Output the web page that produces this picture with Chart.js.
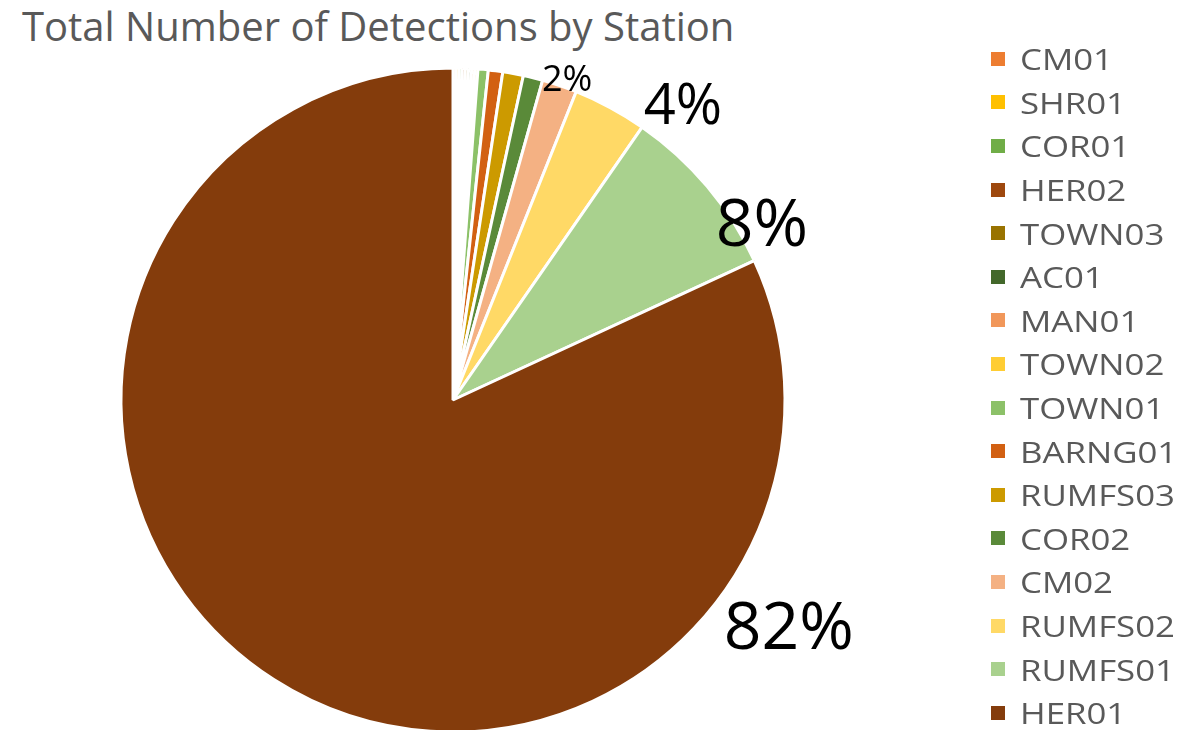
<!DOCTYPE html>
<html>
<head>
<meta charset="utf-8">
<title>Total Number of Detections by Station</title>
<script src="https://cdn.jsdelivr.net/npm/chart.js@4.4.1/dist/chart.umd.min.js"></script>
<style>
    body { margin: 0; background: #fff; overflow: hidden; width: 1198px; height: 730px; }
    #chart-title {
        position: absolute; left: 22px; top: 6px;
        font-family: 'Open Sans', sans-serif; font-size: 40px; line-height: 1;
        color: #595959; white-space: nowrap;
    }
    #chart-wrap { position: absolute; left: 0; top: 0; width: 1198px; height: 760px; }
    #legend { position: absolute; left: 991px; top: 37px; margin: 0; padding: 0; list-style: none; }
    #legend li {
        height: 43.6px; display: flex; align-items: center;
        font-family: 'Open Sans', sans-serif; font-size: 29px; color: #595959; white-space: nowrap;
    }
    #legend .swatch { width: 14px; height: 14px; margin-right: 15px; flex: none; }
    #legend .name { display: inline-block; transform: scaleX(1.2); transform-origin: left center; }
</style>
</head>
<body>
<div id="chart-title">Total Number of Detections by Station</div>
<div id="chart-wrap"><canvas id="pieChart"></canvas></div>
<ul id="legend"></ul>
<script>
// stations in legend order (first slice starts at 12 o'clock, clockwise)
const stations = ['CM01', 'SHR01', 'COR01', 'HER02', 'TOWN03', 'AC01', 'MAN01', 'TOWN02',
    'TOWN01', 'BARNG01', 'RUMFS03', 'COR02', 'CM02', 'RUMFS02', 'RUMFS01', 'HER01'];
// detections
const detections = [15, 15, 15, 15, 15, 15, 15, 15, 50, 70, 100, 95, 170, 360, 845, 8190];
const sliceColors = ['#ED7D31', '#FFC000', '#70AD47', '#9E480E', '#997300', '#43682B', '#F1975A', '#FFCD33',
    '#8CC168', '#D26012', '#CC9A00', '#5A8A39', '#F4B183', '#FFD966', '#A9D18E', '#843C0C'];

// only these slices carry a percentage label; [index, angle from 12 o'clock (deg), radius factor, font px]
const labelSpots = [
    [12, 19.7, 1.02, 36],
    [13, 38.2, 1.12, 56],
    [14, 60.8, 1.066, 66],
    [15, 124.4, 1.226, 66]
];

const pctLabels = {
    id: 'pctLabels',
    afterDatasetsDraw(chart) {
        const ctx = chart.ctx;
        const arcs = chart.getDatasetMeta(0).data;
        const total = detections.reduce((a, b) => a + b, 0);
        ctx.save();
        ctx.fillStyle = '#000';
        ctx.textAlign = 'center';
        ctx.textBaseline = 'middle';
        labelSpots.forEach(([i, deg, f, size]) => {
            const arc = arcs[i];
            const a = (deg - 90) * Math.PI / 180;
            const r = arc.outerRadius * f;
            ctx.font = `${size}px 'Open Sans', sans-serif`;
            ctx.fillText(Math.round(detections[i] / total * 100) + '%', arc.x + Math.cos(a) * r, arc.y + Math.sin(a) * r);
        });
        ctx.restore();
    }
};

document.addEventListener('DOMContentLoaded', () => {
    const ctx = document.getElementById('pieChart').getContext('2d');
    const chart = new Chart(ctx, {
        type: 'pie',
        data: {
            labels: stations,
            datasets: [{
                data: detections,
                backgroundColor: sliceColors,
                borderColor: '#fff',
                borderWidth: 3,
                hoverOffset: 0
            }]
        },
        options: {
            responsive: true,
            maintainAspectRatio: false,
            animation: false,
            events: [],
            layout: { padding: { left: 119.5, right: 411.5, top: 66.5, bottom: 26.5 } },
            plugins: {
                legend: { display: false },
                tooltip: { enabled: false },
                title: { display: false }
            }
        },
        plugins: [pctLabels]
    });

    // legend list built from the chart's own legend items
    const items = Chart.overrides.pie.plugins.legend.labels.generateLabels(chart);
    document.getElementById('legend').innerHTML = items.map(it =>
        `<li><span class="swatch" style="background:${it.fillStyle}"></span><span class="name">${it.text}</span></li>`).join('');
});
</script>
</body>
</html>
